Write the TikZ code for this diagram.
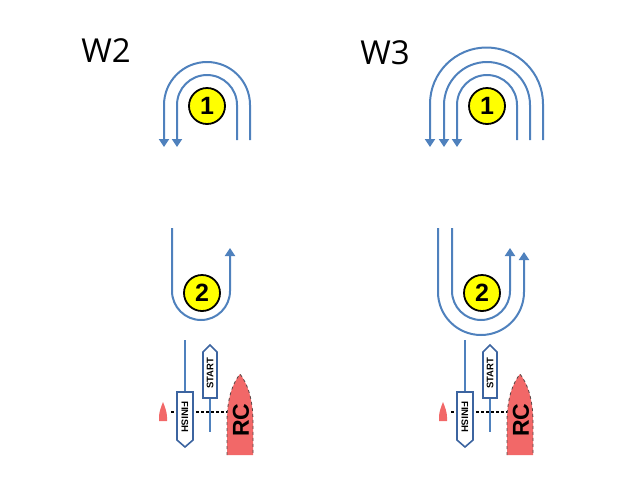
\documentclass[tikz,border=0pt]{standalone}
\usepackage{fontspec}
\setmainfont{Open Sans}
\newfontfamily\labelfont{Liberation Sans}
\usetikzlibrary{arrows.meta}
\definecolor{lineblue}{RGB}{79,129,189}
\definecolor{flagblue}{RGB}{60,100,160}
\definecolor{boatred}{RGB}{242,104,104}
\definecolor{markyellow}{RGB}{255,255,0}
\definecolor{boatedge}{RGB}{90,70,70}
\begin{document}
\begin{tikzpicture}[x=1pt,y=-1pt,
  course/.style={draw=lineblue,line width=2pt},
  arr/.style={course,-{Triangle[width=10pt,length=8pt]}},
  markcircle/.style={circle,draw=black,line width=1.8pt,fill=markyellow,minimum size=36pt,inner sep=0pt,font=\labelfont\bfseries\fontsize{25}{25}\selectfont},
  flagbox/.style={draw=flagblue,line width=1.6pt,fill=white},
  flagtext/.style={font=\labelfont\bfseries\fontsize{9.5}{10}\selectfont,inner sep=0pt},
  buoy/.style={fill=boatred},
  lineup/.style={draw=black,line width=2.5pt,dash pattern=on 2.5pt off 2.5pt},
  title/.style={font=\fontsize{33}{33}\selectfont,inner sep=0pt}]
\useasboundingbox (0,0) rectangle (640,480);

\node[title] (w2) at (106,51) {W2};
\node[title] (w3) at (385,53) {W3};

% W3 extra arcs
\draw[arr] (543,140) -- (543,104) arc[start angle=0,end angle=180,radius=56.5pt] -- (430,147);
\draw[arr] (438,228) -- (438,292) arc[start angle=180,end angle=360,radius=43pt] -- (524,252);

\foreach \dx/\nm in {0/a,280/b}{
\begin{scope}[xshift=\dx]
  % mark 1 rounding
  \draw[arr] (250,140) -- (250,105) arc[start angle=0,end angle=180,radius=43pt] -- (164,147);
  \draw[arr] (237,140) -- (237,105) arc[start angle=0,end angle=180,radius=30pt] -- (177,147);
  \node[markcircle] (m1\nm) at (207,106) {1};
  % mark 2 rounding
  \draw[arr] (172,228) -- (172,291) arc[start angle=180,end angle=360,radius=29pt] -- (230,248);
  \node[markcircle] (m2\nm) at (202,293) {2};
  % line
  \draw[lineup] (171,412) -- (227,412);
  % finish flag
  \draw[course] (185,340) -- (185,392);
  \draw[flagbox] (177,392) -- (193,392) -- (193,440) -- (185,447) -- (177,440) -- cycle;
  \node[flagtext,rotate=-90] (fin\nm) at (185,417) {FINISH};
  % start flag
  \draw[course] (210,398) -- (210,432);
  \draw[flagbox] (203,398) -- (203,352) -- (210,345) -- (217,352) -- (217,398) -- cycle;
  \node[flagtext,rotate=90] (st\nm) at (210,373) {START};
  % buoy
  \path[buoy] (163,402) .. controls (165,407) and (167,412) .. (167,417) -- (167,421) -- (159,421) -- (159,417) .. controls (159,412) and (161,407) .. (163,402);
  % RC boat
  \path[fill=boatred] (227,455) -- (227,422) .. controls (227,398) and (233,383) .. (240,374) .. controls (247,383) and (253,398) .. (253,422) -- (253,455) -- cycle;
  \draw[draw=boatedge,dashed,line width=0.8pt] (227,455) -- (227,422) .. controls (227,398) and (233,383) .. (240,374) .. controls (247,383) and (253,398) .. (253,422) -- (253,455);
  \node[font=\labelfont\bfseries\fontsize{23}{23}\selectfont,rotate=90,inner sep=0pt] (rc\nm) at (241,420) {RC};
\end{scope}
}
\end{tikzpicture}
\end{document}
